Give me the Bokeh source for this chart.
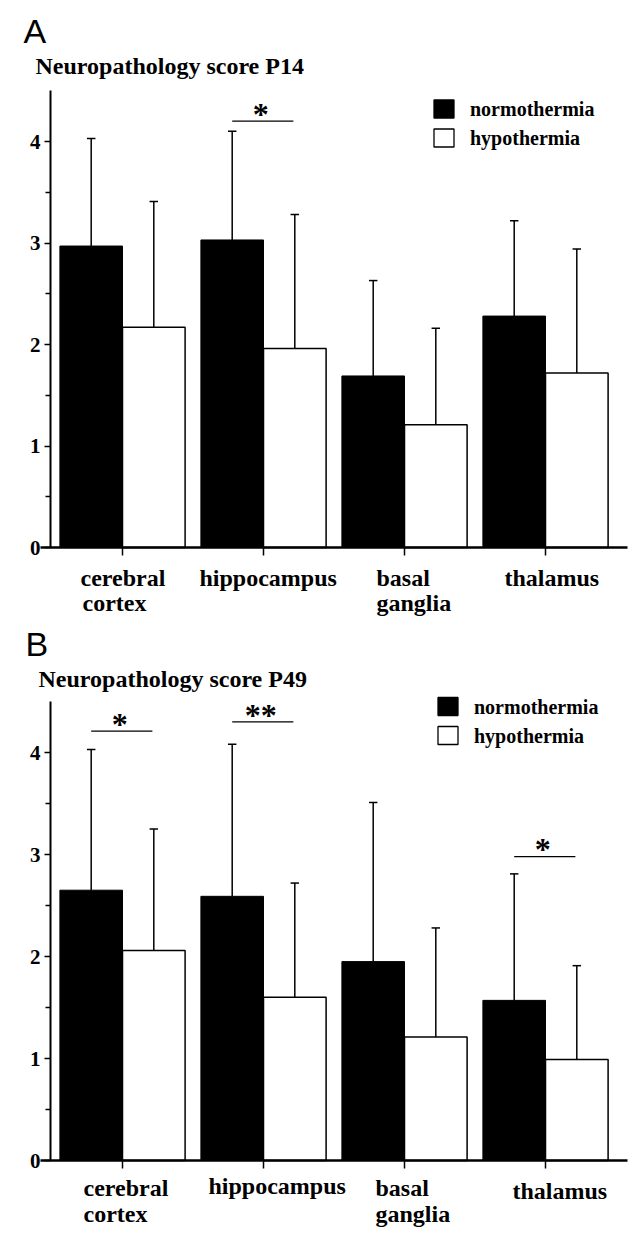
import numpy as np
from bokeh.plotting import figure
from bokeh.models import Range1d, FixedTicker, Label
from bokeh.layouts import column
from bokeh.embed import file_html
from bokeh.resources import INLINE

# ---------------- data ----------------
categories = ["cerebral cortex", "hippocampus", "basal ganglia", "thalamus"]
series_names = ["normothermia", "hypothermia"]

p14_normo_mean = [2.97, 3.03, 1.69, 2.28]
p14_normo_sd = [1.06, 1.07, 0.94, 0.94]
p14_hypo_mean = [2.17, 1.96, 1.21, 1.72]
p14_hypo_sd = [1.24, 1.32, 0.95, 1.22]

p49_normo_mean = [2.65, 2.59, 1.95, 1.57]
p49_normo_sd = [1.38, 1.49, 1.56, 1.24]
p49_hypo_mean = [2.06, 1.60, 1.21, 0.99]
p49_hypo_sd = [1.19, 1.12, 1.07, 0.92]

# significance marks: (category index, level, marker)
p14_sig = [(1, 4.20, "*")]
p49_sig = [(0, 4.21, "*"), (1, 4.30, "**"), (3, 2.98, "*")]

y_ticks = [0, 1, 2, 3, 4]
y_minor = [0.5, 1.5, 2.5, 3.5]

SERIF = "Liberation Serif"
SANS = "Liberation Sans"

XPX = 141.0  # pixels per category unit


def panel(letter, title, nm, nsd, hm, hsd, sigs, height, y0_px, unit,
          label_layout, pos):
    x = np.arange(len(categories))
    p = figure(width=639, height=height,
               x_range=Range1d(-122 / XPX, (639 - 122) / XPX),
               y_range=Range1d(-(height - y0_px) / unit, y0_px / unit),
               output_backend="svg", toolbar_location=None,
               min_border_left=0, min_border_right=0, min_border_top=0,
               min_border_bottom=0)
    p.xgrid.visible = False
    p.ygrid.visible = False
    p.outline_line_color = None
    p.background_fill_color = "white"
    p.border_fill_color = "white"

    off = 0.222
    w = 0.444
    nm = np.array(nm); hm = np.array(hm)
    nup = nm + np.array(nsd); hup = hm + np.array(hsd)

    p.vbar(x=x - off, top=nm, width=w, fill_color="black", line_color="black", line_width=1)
    p.vbar(x=x + off, top=hm, width=w, fill_color="white", line_color="black", line_width=1.5)

    cap = 0.03
    for xs, m, u in [(x - off, nm, nup), (x + off, hm, hup)]:
        p.segment(x0=xs, y0=m, x1=xs, y1=u, line_color="black", line_width=1.5)
        p.segment(x0=xs - cap, y0=u, x1=xs + cap, y1=u, line_color="black", line_width=1.5)

    # significance lines and stars
    for ci, lev, mark in sigs:
        p.segment(x0=[ci - off], y0=[lev], x1=[ci + off - 0.01], y1=[lev],
                  line_color="black", line_width=1.3)
        p.add_layout(Label(x=ci - 0.02, y=lev + 0.07, text=mark, text_align="center",
                           text_baseline="alphabetic", text_font=SERIF,
                           text_font_style="bold", text_font_size="32px",
                           text_color="black"))

    # axes placed inside the full-canvas frame
    p.yaxis.fixed_location = -0.511
    p.yaxis.ticker = FixedTicker(ticks=y_ticks, minor_ticks=y_minor)
    p.yaxis.bounds = (0, 4.5)
    p.yaxis.axis_line_width = 2
    p.yaxis.major_tick_line_width = 1.5
    p.yaxis.minor_tick_line_width = 1.5
    p.yaxis.major_tick_out = 6
    p.yaxis.major_tick_in = 0
    p.yaxis.minor_tick_out = 5
    p.yaxis.minor_tick_in = 0
    p.yaxis.major_label_standoff = 4
    p.yaxis.major_label_text_font = SERIF
    p.yaxis.major_label_text_font_style = "bold"
    p.yaxis.major_label_text_font_size = "21px"
    p.yaxis.major_label_text_color = "black"

    p.xaxis.fixed_location = 0
    p.xaxis.ticker = FixedTicker(ticks=[], minor_ticks=list(range(len(categories))))
    p.xaxis.bounds = (-0.58, 3.58)
    p.xaxis.axis_line_width = 2.5
    p.xaxis.minor_tick_line_width = 1.5
    p.xaxis.minor_tick_out = 8
    p.xaxis.minor_tick_in = 0

    # category labels
    for (txt, xx, ypx) in label_layout:
        p.add_layout(Label(x=(xx - 122) / XPX, y=(y0_px - ypx) / unit, text=txt,
                           text_align="left", text_baseline="middle",
                           text_font=SERIF, text_font_style="bold", text_font_size="24px",
                           text_color="black"))

    # panel letter and title
    p.add_layout(Label(x=(pos["letter"][0] - 122) / XPX, y=(y0_px - pos["letter"][1]) / unit,
                       text=letter, text_align="left", text_baseline="middle",
                       text_font=SANS, text_font_size="34px", text_color="black"))
    p.add_layout(Label(x=(pos["title"][0] - 122) / XPX, y=(y0_px - pos["title"][1]) / unit,
                       text=title, text_align="left", text_baseline="middle",
                       text_font=SERIF, text_font_style="bold", text_font_size="24px",
                       text_color="black"))

    # legend
    lx = (pos["lx"] - 122) / XPX
    for k, (name, fill) in enumerate(zip(series_names, ["black", "white"])):
        yc = (y0_px - pos["rows"][k]) / unit
        p.rect(x=[lx], y=[yc], width=20 / XPX, height=18 / unit,
               fill_color=fill, line_color="black", line_width=1.3)
        p.add_layout(Label(x=lx + 26 / XPX, y=yc, text=name, text_align="left",
                           text_baseline="middle", text_font=SERIF, text_font_style="bold",
                           text_font_size="20px", text_color="black"))
    return p


# panel A: y=0 at 547 px, 101.5 px per unit (within a 618 px tall canvas)
pa_labels = [
    ("cerebral", 80, 577), ("cortex", 82, 602),
    ("hippocampus", 199, 577),
    ("basal", 376, 577), ("ganglia", 376, 602),
    ("thalamus", 504, 577),
]
pa = panel("A", "Neuropathology score P14", p14_normo_mean, p14_normo_sd,
           p14_hypo_mean, p14_hypo_sd, p14_sig, 618, 547, 101.5, pa_labels,
           {"letter": (23, 30), "title": (35, 65), "lx": 443.5, "rows": [108.5, 137.5]})

# panel B: own canvas starts at 618 px; y=0 at 1160-618 = 542 px
pb_labels = [
    ("cerebral", 83, 1187 - 618), ("cortex", 83, 1213 - 618),
    ("hippocampus", 208, 1185 - 618),
    ("basal", 375, 1187 - 618), ("ganglia", 375, 1213 - 618),
    ("thalamus", 512, 1190 - 618),
]
pb = panel("B", "Neuropathology score P49", p49_normo_mean, p49_normo_sd,
           p49_hypo_mean, p49_hypo_sd, p49_sig, 627, 542, 102.0, pb_labels,
           {"letter": (25, 643 - 618), "title": (38, 678 - 618), "lx": 447.5,
            "rows": [706 - 618, 735 - 618]})

layout = column(pa, pb, spacing=0)
open("out.html", "w").write(file_html(layout, INLINE))
